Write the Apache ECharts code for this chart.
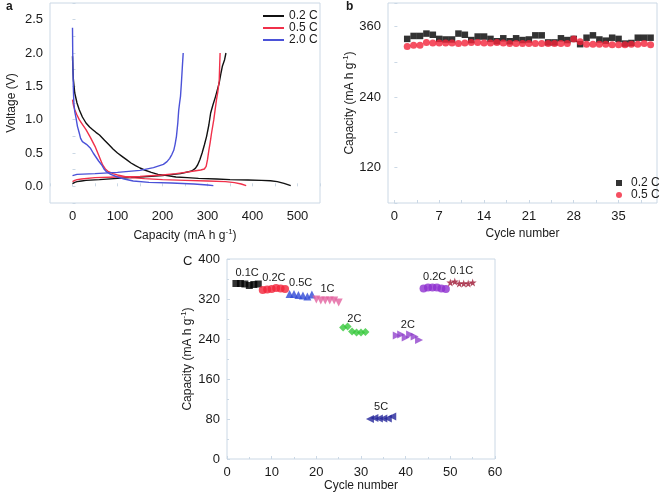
<!DOCTYPE html>
<html>
<head>
<meta charset="utf-8">
<script src="https://cdn.jsdelivr.net/npm/echarts@6/dist/echarts.min.js"></script>
<style>
  html, body { margin: 0; padding: 0; background: #fff; }
  #chart { width: 663px; height: 500px; }
</style>
</head>
<body>
<div id="chart"></div>
<script>
// panel a: galvanostatic curves [capacity, voltage]
var dis02 = [[0,1.95],[1,1.75],[2,1.6],[5,1.4],[10,1.25],[15,1.15],[22,1.04],[30,0.95],[38,0.89],[45,0.85],[52,0.81],[60,0.77],[70,0.7],[80,0.63],[90,0.56],[100,0.5],[110,0.45],[120,0.4],[130,0.35],[140,0.31],[150,0.275],[160,0.245],[175,0.21],[190,0.18],[210,0.16],[230,0.14],[255,0.13],[280,0.12],[320,0.11],[350,0.1],[390,0.095],[420,0.09],[440,0.083],[455,0.07],[470,0.045],[485,0.01]];
var chg02 = [[0,0.04],[5,0.06],[10,0.07],[20,0.08],[30,0.09],[60,0.1],[100,0.12],[150,0.14],[200,0.16],[240,0.19],[265,0.23],[273,0.27],[278,0.32],[283,0.4],[288,0.5],[293,0.62],[298,0.75],[303,0.92],[307,1.1],[312,1.22],[318,1.35],[322,1.45],[326,1.55],[330,1.7],[333,1.8],[336,1.82],[338,1.9],[341,2.0]];
var dis05 = [[0,1.3],[2,1.22],[5,1.15],[10,1.07],[15,1.0],[22,0.93],[30,0.85],[40,0.73],[50,0.6],[58,0.47],[67,0.32],[73,0.26],[80,0.22],[90,0.19],[100,0.17],[115,0.15],[130,0.13],[160,0.115],[200,0.1],[250,0.09],[300,0.08],[340,0.07],[360,0.055],[375,0.035],[386,0.01]];
var chg05 = [[0,0.07],[5,0.09],[10,0.1],[20,0.11],[50,0.13],[100,0.14],[150,0.15],[200,0.17],[230,0.19],[250,0.21],[270,0.23],[285,0.245],[293,0.26],[297,0.3],[300,0.4],[303,0.54],[306,0.66],[309,0.8],[314,1.0],[317,1.15],[320,1.3],[323,1.42],[326,1.58],[327,1.8],[328,2.0]];
var dis20 = [[0,2.38],[0.5,2.0],[1,1.75],[2,1.45],[3,1.25],[5,1.12],[8,1.02],[11,0.9],[15,0.8],[18,0.72],[22,0.67],[26,0.65],[31,0.63],[35,0.6],[40,0.57],[46,0.5],[52,0.44],[58,0.38],[65,0.32],[70,0.26],[75,0.22],[85,0.18],[100,0.14],[115,0.11],[135,0.08],[170,0.06],[220,0.05],[270,0.035],[300,0.02],[313,0.01]];
var chg20 = [[0,0.16],[3,0.17],[10,0.18],[50,0.19],[100,0.21],[150,0.24],[180,0.28],[202,0.33],[210,0.37],[216,0.42],[221,0.48],[225,0.54],[228,0.63],[231,0.75],[234,0.95],[236,1.14],[238,1.25],[240,1.35],[242,1.55],[244,1.78],[246,2.0]];

// panel b: cycling
var cycleB = [2,3,4,5,6,7,8,9,10,11,12,13,14,15,16,17,18,19,20,21,22,23,24,25,26,27,28,29,30,31,32,33,34,35,36,37,38,39,40];
var capB02 = [339,344,344,348,346,339,338,338,348,346,337,343,343,339,335,340,335,340,337,338,345,345,333,333,340,337,339,330,341,345,338,336,341,339,331,332,341,341,341];
var capB05 = [326,328,328,333,332,332,332,332,331,332,333,333,332,332,333,332,331,331,331,331,331,331,331,331,331,331,339,334,330,330,330,330,329,329,329,330,330,331,329];

// panel c: rate capability
var cycleC = [];
for (var i = 2; i <= 55; i++) cycleC.push(i);
var capC = [
  351,351,350,347,349,350,
  338,339,340,342,341,340,
  330,330,328,327,325,329,
  319,317,317,317,317,313,
  263,265,255,253,253,254,
  80,82,81,81,81,85,
  247,249,243,249,245,238,
  341,343,343,343,341,340,
  353,355,351,351,351,353
];
var rateC = ['0.1C','0.2C','0.5C','1C','2C','5C','2C','0.2C','0.1C'];

var star = 'path://M50,0 L61,35 L98,35 L68,57 L79,91 L50,70 L21,91 L32,57 L2,35 L39,35 Z';
var symC = ['rect','circle','triangle','triangle','diamond','triangle','triangle','circle',star];
var rotC = [0,0,0,180,0,90,-90,0,0];
var colC = ['#000000','#f2233a','#2f48d6','#e2629f','#35c83a','#23249a','#9142cc','#8f2fd0','#9e1733'];

var font = 'Liberation Sans, Arial, sans-serif';
var txt = '#1a1a1a';
var frame = '#cbd8e5';
var rich = { s: { fontSize: 8, verticalAlign: 'bottom', padding: [0, 0, 7, 0], fontFamily: font, color: txt } };

function axisBase(extra) {
  var o = {
    gridIndex: 0,
    type: 'value',
    axisLine: { show: false },
    splitLine: { show: false },
    axisPointer: { show: false },
    axisTick: { inside: true, length: 3, lineStyle: { color: frame } },
    axisLabel: { color: txt, fontSize: 13, fontFamily: font, margin: 7 },
    nameLocation: 'middle',
    nameTextStyle: { color: txt, fontSize: 12, fontFamily: font, rich: rich }
  };
  for (var k in extra) o[k] = extra[k];
  return o;
}

function pair(a) { return a.map(function (d) { return [d[0], d[1]]; }); }
// label only the values in a list, ticks stay on every interval
function only(vals, dec) {
  return { color: txt, fontSize: 13, fontFamily: font, margin: 7,
    formatter: function (v) {
      for (var n = 0; n < vals.length; n++) if (Math.abs(vals[n] - v) < 1e-6) return dec ? v.toFixed(dec) : String(Math.round(v));
      return '';
    } };
}

var series = [];
[['0.2 C', '#111111', dis02, chg02], ['0.5 C', '#f0304a', dis05, chg05], ['2.0 C', '#4b52d8', dis20, chg20]].forEach(function (s) {
  [s[2], s[3]].forEach(function (d) {
    series.push({ type: 'line', name: s[0], xAxisIndex: 0, yAxisIndex: 0, data: pair(d), color: s[1],
      showSymbol: false, symbol: 'none', smooth: false,
      lineStyle: { color: s[1], width: 1.4 }, itemStyle: { color: s[1] } });
  });
});

series.push({ type: 'scatter', name: '0.2 C ', xAxisIndex: 1, yAxisIndex: 1, symbol: 'rect', symbolSize: 6.5, color: '#000', itemStyle: { color: '#000' },
  data: cycleB.map(function (c, i) { return [c, capB02[i]]; }) });
series.push({ type: 'scatter', name: '0.5 C ', xAxisIndex: 1, yAxisIndex: 1, symbol: 'circle', symbolSize: 7, color: '#f2233a', itemStyle: { color: '#f2233a' },
  data: cycleB.map(function (c, i) { return [c, capB05[i]]; }) });

rateC.forEach(function (r, g) {
  var d = [], sx = 0, sy = 0;
  for (var j = g * 6; j < g * 6 + 6; j++) { d.push([cycleC[j], capC[j]]); sx += cycleC[j]; sy += capC[j]; }
  series.push({
    type: 'scatter', xAxisIndex: 2, yAxisIndex: 2, data: d, color: colC[g],
    symbol: symC[g], symbolRotate: rotC[g], symbolSize: g === 0 ? 7 : 8,
    itemStyle: { color: colC[g] },
    markPoint: {
      symbol: 'circle', symbolSize: 0,
      label: { show: true, position: 'top', distance: 6, formatter: r, color: txt, fontSize: 11, fontFamily: font },
      data: [{ coord: [sx / 6, sy / 6] }]
    }
  });
});

var chart = echarts.init(document.getElementById('chart'));
chart.setOption({
  animation: false,
  backgroundColor: '#fff',
  color: ['#4b52d8'],
  textStyle: { fontFamily: font },
  grid: [
    { left: 50, top: 3, width: 270, height: 200, show: true, borderColor: frame, borderWidth: 1 },
    { left: 388, top: 3, width: 269, height: 200, show: true, borderColor: frame, borderWidth: 1 },
    { left: 227, top: 259, width: 268, height: 200, show: true, borderColor: frame, borderWidth: 1 }
  ],
  legend: [
    { data: ['0.2 C', '0.5 C', '2.0 C'], orient: 'vertical', left: 258, top: 5, itemWidth: 21, itemHeight: 2, itemGap: 0, icon: 'rect',
      textStyle: { color: txt, fontSize: 12, fontFamily: font } },
    { data: ['0.2 C ', '0.5 C '], orient: 'vertical', left: 611, top: 172, itemWidth: 6, itemHeight: 6, itemGap: 0,
      textStyle: { color: txt, fontSize: 12, fontFamily: font, padding: [0, 0, 0, 4] } }
  ],
  xAxis: [
    axisBase({ gridIndex: 0, min: -50, max: 550, interval: 50, name: 'Capacity (mA h g{s|-1})', nameGap: 25,
      axisLabel: only([0, 100, 200, 300, 400, 500]) }),
    axisBase({ gridIndex: 1, min: -1, max: 41, name: 'Cycle number', nameGap: 25,
      axisLabel: { color: txt, fontSize: 13, fontFamily: font, margin: 7, customValues: [0, 7, 14, 21, 28, 35] },
      axisTick: { inside: true, length: 3, lineStyle: { color: frame }, customValues: [0, 3.5, 7, 10.5, 14, 17.5, 21, 24.5, 28, 31.5, 35, 38.5] } }),
    axisBase({ gridIndex: 2, min: 0, max: 60, interval: 10, name: 'Cycle number', nameGap: 21,
      minorTick: { show: true, splitNumber: 2, length: 2, lineStyle: { color: frame } } })
  ],
  yAxis: [
    axisBase({ gridIndex: 0, min: -0.25, max: 2.75, interval: 0.25, name: 'Voltage (V)', nameGap: 32,
      axisLabel: only([0, 0.5, 1, 1.5, 2, 2.5], 1) }),
    axisBase({ gridIndex: 1, min: 60, max: 400, interval: 60, name: 'Capacity (mA h g{s|-1})', nameGap: 30,
      axisLabel: only([120, 240, 360]) }),
    axisBase({ gridIndex: 2, min: 0, max: 400, interval: 80, name: 'Capacity (mA h g{s|-1})', nameGap: 32,
      minorTick: { show: true, splitNumber: 2, length: 2, lineStyle: { color: frame } } })
  ],
  graphic: [
    { type: 'text', left: 6, top: 1, style: { text: 'a', fontSize: 12, fontWeight: 'bold', fontFamily: font, fill: txt } },
    { type: 'text', left: 346, top: 1, style: { text: 'b', fontSize: 12, fontWeight: 'bold', fontFamily: font, fill: txt } },
    { type: 'text', left: 183, top: 255, style: { text: 'C', fontSize: 13, fontFamily: font, fill: txt } }
  ],
  series: series
});
</script>
</body>
</html>
